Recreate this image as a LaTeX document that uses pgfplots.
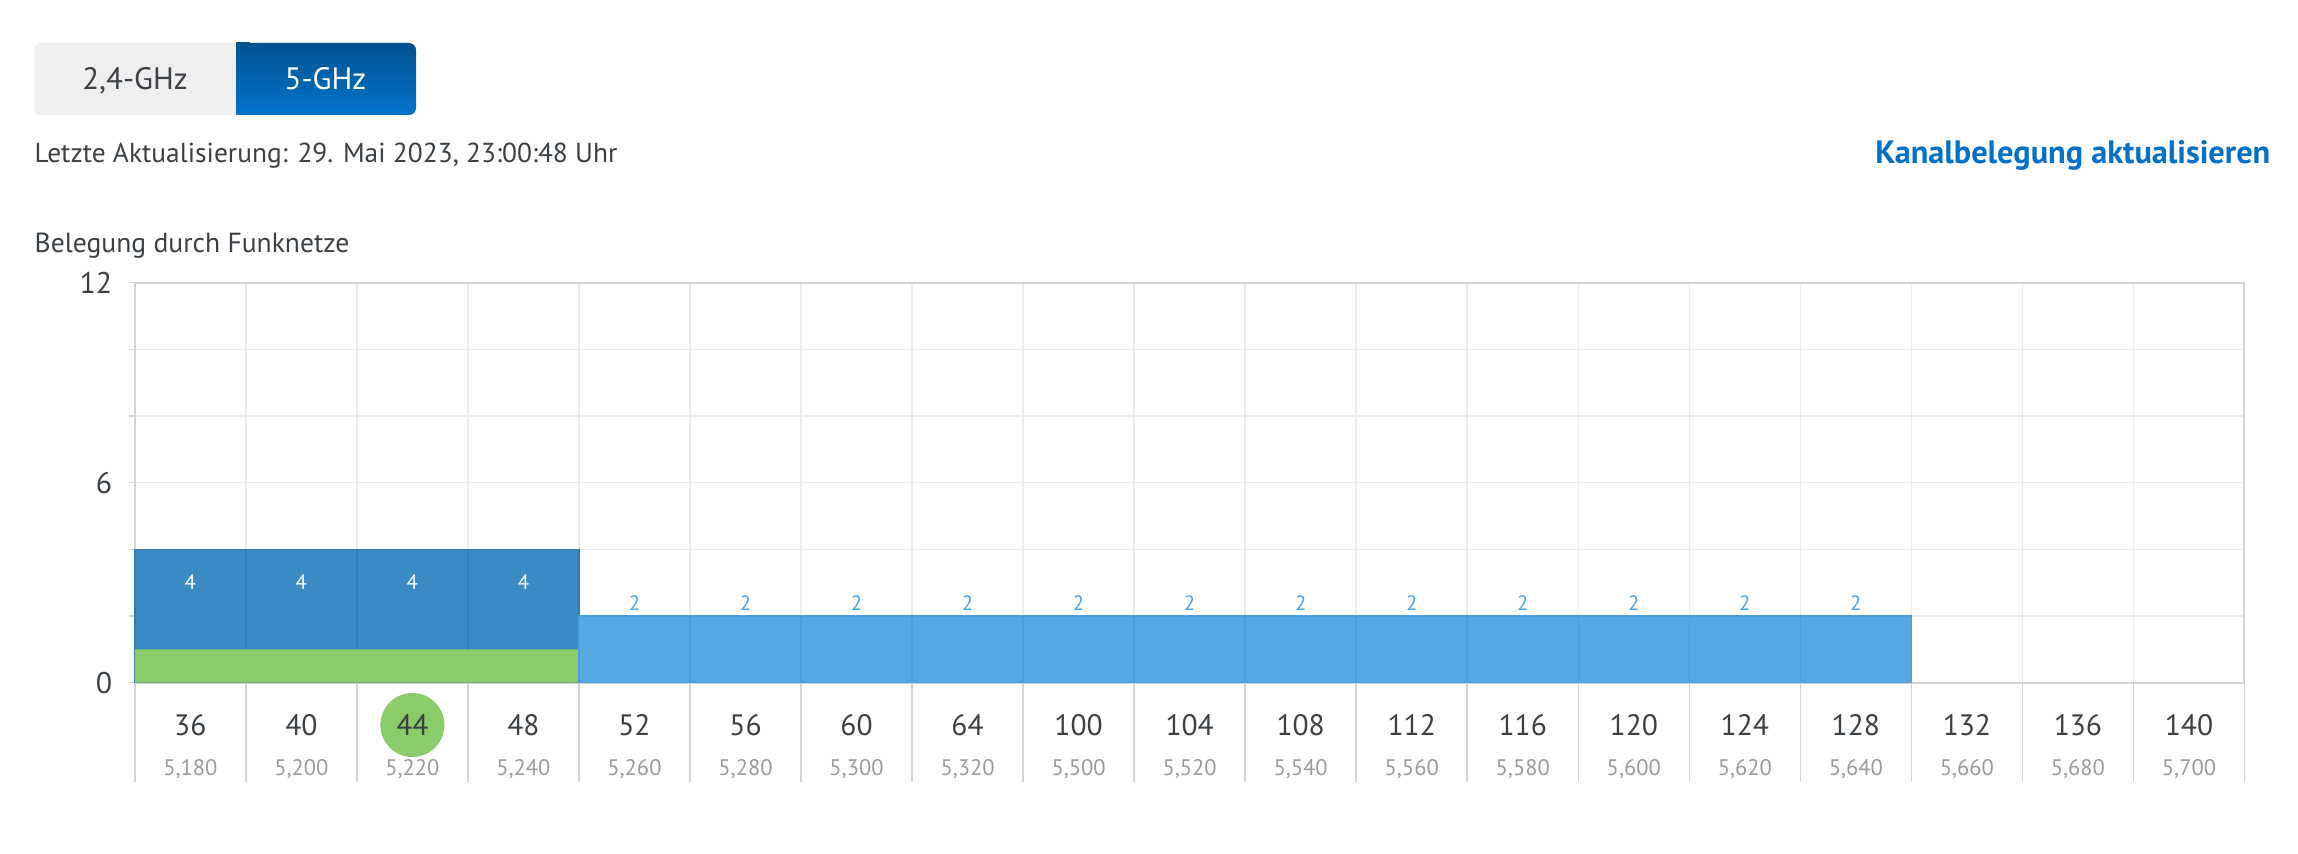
\documentclass[border=0pt]{standalone}
\usepackage{fontspec}
\setmainfont{PT Sans}
\usepackage{pgfplots}
\pgfplotsset{compat=1.18}

\definecolor{txtdark}{HTML}{3B4047}
\definecolor{freqgray}{HTML}{9B9B9B}
\definecolor{border}{HTML}{D4D4D4}
\definecolor{gridgray}{HTML}{ECECEC}
\definecolor{darkblue}{HTML}{3A8AC3}
\definecolor{darkblueline}{HTML}{2F7DB8}
\definecolor{lightblue}{HTML}{55A8E2}
\definecolor{lightblueline}{HTML}{4A9EDB}
\definecolor{labelblue}{HTML}{4EA5E0}
\definecolor{greenc}{HTML}{8ACB6A}
\definecolor{btngray}{HTML}{EFEFEF}
\definecolor{btntop}{HTML}{03528F}
\definecolor{btnblue}{HTML}{0074CA}
\definecolor{linkblue}{HTML}{0070C9}

\begin{document}
\begin{tikzpicture}
% page frame and header, in pixels of the reference (0.1mm each)
\begin{scope}[x=0.1mm,y=-0.1mm]
  \path (0,0) rectangle (2298,854);
  \fill[btngray, rounded corners=0.7mm] (34,43) rectangle (416,115);
  \shade[top color=btntop, middle color=btnblue, bottom color=btnblue, rounded corners=0.7mm] (236,43) rectangle (416,115);
  \shade[top color=btntop, middle color=btnblue, bottom color=btnblue] (236,43) rectangle (250,115);
  \node[anchor=base, inner sep=0, font=\fontsize{8.8}{10}\selectfont, text=txtdark] at (135,90) {2,4-GHz};
  \node[anchor=base, inner sep=0, font=\fontsize{8.8}{10}\selectfont, text=white] at (325.5,90) {5-GHz};
  \node[anchor=base west, inner sep=0, font=\fontsize{7.8}{9}\selectfont, text=txtdark] at (34,163)
    {Letzte Aktualisierung: 29. Mai 2023, 23:00:48 Uhr};
  \node[anchor=base east, inner sep=0, font=\bfseries\fontsize{9.2}{10}\selectfont, text=linkblue] at (2271,164)
    {Kanalbelegung aktualisieren};
  \node[anchor=base west, inner sep=0, font=\fontsize{7.85}{9}\selectfont, text=txtdark] at (34,253)
    {Belegung durch Funknetze};
\end{scope}

\begin{axis}[
    at={(13.48mm,-68.27mm)}, anchor=south west,
    scale only axis, width=210.97mm, height=40mm,
    set layers=standard,
    clip=false,
    xmin=-0.5, xmax=18.5, ymin=0, ymax=12,
    axis line style={draw=border, line width=0.2mm},
    xtick={0,...,18},
    xticklabels={36,40,44,48,52,56,60,64,100,104,108,112,116,120,124,128,132,136,140},
    extra x ticks={0,...,18},
    extra x tick labels={{5,180},{5,200},{5,220},{5,240},{5,260},{5,280},{5,300},{5,320},{5,500},{5,520},{5,540},{5,560},{5,580},{5,600},{5,620},{5,640},{5,660},{5,680},{5,700}},
    minor xtick={-0.5,0.5,...,18.5},
    xminorgrids=true, xmajorgrids=false, ymajorgrids=true,
    grid style={draw=gridgray, line width=0.15mm},
    minor grid style={draw=gridgray, line width=0.15mm},
    ytick={0,2,...,12},
    yticklabels={0,,,6,,,12},
    tick align=outside, tick pos=left,
    major tick length=0.6mm, minor tick length=9.9mm,
    major x tick style={draw=none},
    minor x tick style={draw=border, line width=0.15mm},
    ytick style={draw=border, line width=0.15mm},
    xticklabel style={anchor=center, inner sep=0pt, yshift=-3.63mm,
        font=\fontsize{8.4}{9}\selectfont, text=txtdark},
    extra x tick style={major tick length=0pt,
        xticklabel style={yshift=-5.0mm, font=\fontsize{6.4}{7}\selectfont, text=freqgray}},
    yticklabel style={anchor=east, inner sep=0pt, xshift=-1.6mm,
        font=\fontsize{8.5}{9}\selectfont, text=txtdark},
    /pgf/number format/assume math mode=true,
]
% own channel marker behind "44"
\begin{pgfonlayer}{axis background}
\fill[greenc] (axis cs:2,-1.269) circle[radius=3.2mm];
\end{pgfonlayer}

% neighbouring networks, channels 36-48
\addplot[ybar, bar width=1, bar shift=0pt, fill=darkblue, draw=darkblueline, line width=0.15mm,
    nodes near coords,
    every node near coord/.append style={anchor=center, yshift=-3.3mm, text=white,
        font=\fontsize{5.9}{7}\selectfont}]
    coordinates {(0,4) (1,4) (2,4) (3,4)};
% own network
\addplot[ybar, bar width=1, bar shift=0pt, fill=greenc, draw=none]
    coordinates {(0,1) (1,1) (2,1) (3,1)};
% networks on channels 52-128
\addplot[ybar, bar width=1, bar shift=0pt, fill=lightblue, draw=lightblueline, line width=0.15mm,
    nodes near coords,
    every node near coord/.append style={anchor=center, yshift=1.33mm, text=labelblue,
        font=\fontsize{5.9}{7}\selectfont}]
    coordinates {(4,2) (5,2) (6,2) (7,2) (8,2) (9,2) (10,2) (11,2)
                 (12,2) (13,2) (14,2) (15,2)};
\end{axis}
\end{tikzpicture}
\end{document}
